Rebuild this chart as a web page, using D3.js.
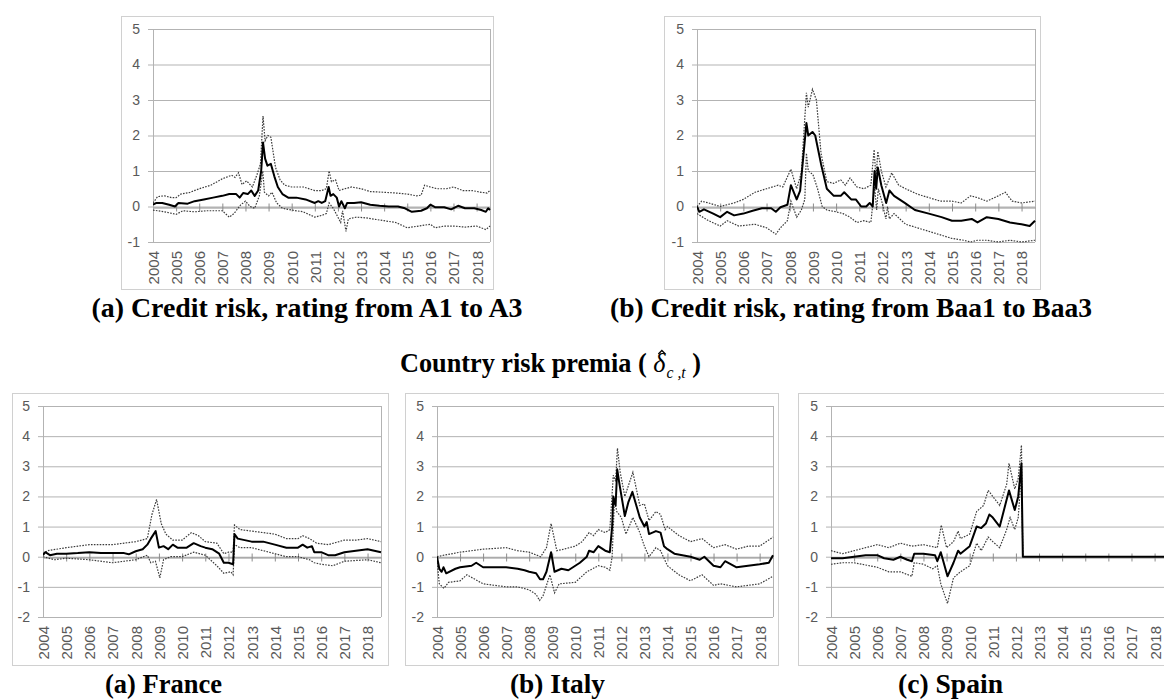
<!DOCTYPE html>
<html>
<head>
<meta charset="utf-8">
<script src="https://cdn.jsdelivr.net/npm/d3@7"></script>
<style>
  body { margin: 0; background: #fff; }
  svg { display: block; }
  .tick text { font-family: "Liberation Sans", Arial, sans-serif; fill: #595959; }
  .cap { font-family: "Liberation Serif", "Times New Roman", serif; font-weight: bold; fill: #000; }
</style>
</head>
<body>
<svg id="fig" width="1164" height="699"></svg>
<script>
const years = d3.range(2004, 2019);
const xEnd = 2018.58;

// (a) credit risk A1-A3
const a1Mid = [[2004.0,0.05],[2004.15,0.1],[2004.4,0.1],[2004.7,0.05],[2004.95,0.0],[2005.1,0.1],[2005.5,0.08],[2005.8,0.15],[2006.2,0.2],[2006.6,0.25],[2007.0,0.3],[2007.3,0.35],[2007.6,0.35],[2007.75,0.25],[2007.9,0.38],[2008.1,0.35],[2008.25,0.45],[2008.4,0.3],[2008.55,0.45],[2008.68,1.0],[2008.76,1.8],[2008.85,1.35],[2008.95,1.15],[2009.1,1.2],[2009.25,0.85],[2009.4,0.55],[2009.6,0.35],[2009.85,0.25],[2010.2,0.25],[2010.6,0.2],[2011.0,0.1],[2011.15,0.15],[2011.3,0.1],[2011.45,0.15],[2011.6,0.55],[2011.68,0.3],[2011.8,0.35],[2011.95,0.25],[2012.05,0.0],[2012.15,0.15],[2012.3,-0.05],[2012.4,0.1],[2012.7,0.1],[2013.0,0.12],[2013.4,0.05],[2013.8,0.02],[2014.2,0.0],[2014.6,0.0],[2014.9,-0.05],[2015.2,-0.15],[2015.6,-0.12],[2015.85,-0.05],[2016.0,0.05],[2016.2,-0.02],[2016.6,-0.02],[2016.9,-0.08],[2017.2,0.02],[2017.5,-0.05],[2017.9,-0.05],[2018.2,-0.1],[2018.4,-0.15],[2018.5,-0.05],[2018.58,-0.1]];
const a1Up = [[2004.0,0.1],[2004.2,0.28],[2004.5,0.3],[2004.8,0.25],[2005.0,0.25],[2005.2,0.35],[2005.6,0.4],[2006.0,0.5],[2006.5,0.6],[2007.0,0.78],[2007.4,0.88],[2007.55,0.82],[2007.7,0.95],[2007.85,0.62],[2008.05,0.72],[2008.3,0.55],[2008.5,0.9],[2008.65,1.2],[2008.76,2.55],[2008.85,1.85],[2008.97,2.0],[2009.1,1.95],[2009.3,1.1],[2009.5,0.75],[2009.7,0.6],[2010.0,0.55],[2010.5,0.55],[2011.0,0.45],[2011.3,0.45],[2011.5,0.5],[2011.62,1.0],[2011.72,0.7],[2011.9,0.75],[2012.05,0.45],[2012.3,0.5],[2012.6,0.55],[2013.0,0.5],[2013.4,0.42],[2014.0,0.4],[2014.5,0.38],[2015.0,0.35],[2015.4,0.3],[2015.6,0.32],[2015.75,0.6],[2016.0,0.55],[2016.3,0.5],[2016.7,0.5],[2017.0,0.55],[2017.4,0.45],[2017.8,0.45],[2018.2,0.4],[2018.45,0.38],[2018.58,0.45]];
const a1Lo = [[2004.0,-0.1],[2004.5,-0.15],[2005.0,-0.22],[2005.3,-0.12],[2005.8,-0.15],[2006.3,-0.12],[2007.0,-0.12],[2007.3,-0.3],[2007.5,-0.2],[2007.8,0.05],[2008.0,0.15],[2008.2,0.0],[2008.4,-0.05],[2008.6,0.3],[2008.75,1.0],[2008.82,0.4],[2009.0,0.3],[2009.15,0.4],[2009.35,0.1],[2009.6,-0.05],[2010.0,-0.1],[2010.5,-0.15],[2011.0,-0.3],[2011.3,-0.25],[2011.5,-0.2],[2011.62,0.1],[2011.8,-0.05],[2012.0,-0.3],[2012.12,-0.45],[2012.2,-0.12],[2012.35,-0.7],[2012.45,-0.35],[2012.8,-0.3],[2013.2,-0.32],[2014.0,-0.4],[2014.5,-0.45],[2015.0,-0.6],[2015.5,-0.55],[2016.0,-0.5],[2016.2,-0.6],[2016.6,-0.55],[2017.0,-0.55],[2017.5,-0.58],[2018.0,-0.55],[2018.4,-0.65],[2018.58,-0.55]];

// (b) credit risk Baa1-Baa3
const b2Mid = [[2004.0,0.0],[2004.1,-0.15],[2004.3,-0.08],[2004.7,-0.2],[2005.0,-0.3],[2005.3,-0.15],[2005.6,-0.25],[2006.0,-0.2],[2006.4,-0.12],[2006.8,-0.05],[2007.2,-0.05],[2007.4,-0.15],[2007.6,-0.02],[2007.9,0.05],[2008.05,0.6],[2008.3,0.2],[2008.45,0.45],[2008.72,2.35],[2008.8,2.0],[2008.98,2.1],[2009.1,2.0],[2009.35,1.2],[2009.6,0.5],[2009.9,0.3],[2010.2,0.3],[2010.35,0.4],[2010.65,0.2],[2010.85,0.2],[2011.08,0.0],[2011.3,0.0],[2011.45,0.1],[2011.58,0.0],[2011.66,1.0],[2011.73,0.5],[2011.8,1.1],[2011.95,0.6],[2012.16,0.1],[2012.3,0.45],[2012.5,0.3],[2012.96,0.1],[2013.4,-0.1],[2014.0,-0.2],[2014.55,-0.3],[2015.0,-0.4],[2015.4,-0.4],[2015.85,-0.35],[2016.1,-0.45],[2016.5,-0.3],[2017.0,-0.35],[2017.5,-0.45],[2018.0,-0.5],[2018.35,-0.55],[2018.58,-0.4]];
const b2Up = [[2004.0,0.0],[2004.2,0.15],[2004.5,0.1],[2005.0,0.0],[2005.3,0.05],[2005.6,0.1],[2006.0,0.2],[2006.5,0.4],[2007.0,0.5],[2007.5,0.6],[2007.7,0.55],[2008.05,1.05],[2008.3,0.5],[2008.5,0.95],[2008.72,3.2],[2008.8,2.8],[2008.98,3.3],[2009.15,3.0],[2009.35,1.5],[2009.6,0.7],[2009.9,0.65],[2010.2,0.75],[2010.4,0.6],[2010.6,0.8],[2010.9,0.55],[2011.2,0.5],[2011.5,0.6],[2011.64,1.6],[2011.72,0.8],[2011.8,1.55],[2011.95,1.0],[2012.15,0.55],[2012.4,0.95],[2012.7,0.6],[2013.0,0.5],[2013.5,0.35],[2014.0,0.25],[2014.5,0.15],[2015.0,0.15],[2015.4,0.1],[2015.8,0.3],[2016.1,0.25],[2016.5,0.15],[2017.0,0.3],[2017.3,0.4],[2017.6,0.15],[2018.0,0.1],[2018.58,0.15]];
const b2Lo = [[2004.0,-0.2],[2004.5,-0.4],[2005.0,-0.55],[2005.3,-0.4],[2005.8,-0.55],[2006.5,-0.5],[2007.0,-0.6],[2007.4,-0.78],[2007.6,-0.6],[2007.9,-0.4],[2008.05,0.15],[2008.3,-0.3],[2008.5,-0.1],[2008.65,0.2],[2008.72,1.5],[2008.8,1.0],[2009.0,0.9],[2009.2,0.5],[2009.4,0.0],[2009.6,-0.1],[2010.0,-0.15],[2010.3,-0.2],[2010.6,-0.3],[2010.9,-0.45],[2011.2,-0.4],[2011.5,-0.45],[2011.66,0.55],[2011.75,-0.1],[2011.82,0.5],[2011.95,0.2],[2012.15,-0.35],[2012.22,0.0],[2012.3,-0.35],[2012.5,-0.2],[2013.0,-0.5],[2013.5,-0.6],[2014.0,-0.7],[2014.5,-0.8],[2015.0,-0.9],[2015.5,-0.95],[2015.8,-1.0],[2016.1,-0.95],[2016.5,-0.95],[2017.0,-1.0],[2017.5,-0.95],[2018.0,-1.0],[2018.58,-0.95]];

// country risk premia
const frMid = [[2004.0,0.05],[2004.1,0.15],[2004.3,0.05],[2004.6,0.1],[2005.0,0.1],[2005.5,0.12],[2006.0,0.15],[2006.5,0.12],[2007.0,0.12],[2007.5,0.12],[2007.7,0.08],[2008.0,0.18],[2008.3,0.25],[2008.5,0.4],[2008.65,0.6],[2008.86,0.85],[2009.0,0.3],[2009.2,0.35],[2009.4,0.25],[2009.6,0.4],[2009.8,0.3],[2010.2,0.3],[2010.5,0.45],[2010.8,0.35],[2011.0,0.3],[2011.3,0.25],[2011.6,0.1],[2011.8,-0.2],[2012.0,-0.2],[2012.2,-0.25],[2012.26,0.75],[2012.4,0.6],[2013.0,0.5],[2013.5,0.5],[2014.0,0.4],[2014.5,0.3],[2015.0,0.3],[2015.2,0.4],[2015.4,0.3],[2015.6,0.35],[2015.7,0.15],[2016.0,0.15],[2016.3,0.05],[2016.6,0.05],[2017.0,0.15],[2017.5,0.2],[2018.0,0.25],[2018.58,0.15]];
const frUp = [[2004.0,0.1],[2004.2,0.2],[2005.0,0.3],[2006.0,0.4],[2007.0,0.4],[2008.0,0.5],[2008.5,0.6],[2008.7,1.4],[2008.9,1.9],[2009.1,1.1],[2009.3,0.75],[2009.6,0.55],[2010.0,0.55],[2010.4,0.8],[2010.7,0.7],[2011.0,0.5],[2011.5,0.45],[2011.8,0.1],[2012.0,0.15],[2012.2,0.15],[2012.26,1.05],[2012.5,0.9],[2013.0,0.85],[2014.0,0.75],[2014.5,0.6],[2015.0,0.6],[2015.2,0.7],[2015.5,0.6],[2015.8,0.45],[2016.3,0.4],[2017.0,0.55],[2017.5,0.55],[2018.0,0.6],[2018.58,0.5]];
const frLo = [[2004.0,0.0],[2004.5,-0.1],[2005.0,-0.05],[2006.0,-0.1],[2007.0,-0.2],[2007.5,-0.15],[2008.0,-0.1],[2008.5,0.05],[2008.65,-0.2],[2008.85,-0.15],[2009.04,-0.7],[2009.2,-0.1],[2009.5,0.0],[2010.0,0.0],[2010.5,0.15],[2011.0,0.05],[2011.5,-0.3],[2011.8,-0.55],[2012.1,-0.5],[2012.2,-0.6],[2012.26,0.4],[2012.5,0.3],[2013.0,0.3],[2013.5,0.2],[2014.0,0.1],[2014.5,0.0],[2015.0,0.0],[2015.5,-0.1],[2015.7,-0.2],[2016.0,-0.25],[2016.5,-0.3],[2017.0,-0.15],[2018.0,-0.1],[2018.58,-0.2]];

const itMid = [[2004.0,0.0],[2004.1,-0.4],[2004.2,-0.5],[2004.28,-0.35],[2004.4,-0.55],[2004.8,-0.4],[2005.0,-0.35],[2005.5,-0.3],[2005.7,-0.2],[2006.0,-0.35],[2006.5,-0.35],[2007.0,-0.35],[2007.5,-0.4],[2007.8,-0.45],[2008.0,-0.5],[2008.3,-0.55],[2008.47,-0.75],[2008.6,-0.75],[2008.75,-0.5],[2008.95,0.15],[2009.1,-0.5],[2009.4,-0.4],[2009.7,-0.45],[2010.0,-0.3],[2010.2,-0.2],[2010.5,0.0],[2010.6,0.2],[2010.8,0.15],[2011.0,0.35],[2011.3,0.2],[2011.5,0.15],[2011.6,1.0],[2011.65,2.0],[2011.75,1.7],[2011.82,2.9],[2011.92,2.4],[2012.15,1.35],[2012.3,1.8],[2012.48,2.15],[2012.8,1.3],[2013.0,1.0],[2013.1,1.15],[2013.2,0.75],[2013.5,0.85],[2013.7,0.8],[2013.85,0.35],[2014.0,0.25],[2014.3,0.1],[2015.0,0.0],[2015.4,-0.1],[2015.6,0.0],[2016.0,-0.3],[2016.3,-0.35],[2016.5,-0.15],[2017.0,-0.35],[2017.5,-0.3],[2018.0,-0.25],[2018.4,-0.2],[2018.58,0.05]];
const itUp = [[2004.0,0.0],[2004.3,0.05],[2005.0,0.15],[2006.0,0.25],[2007.0,0.3],[2007.5,0.2],[2008.0,0.15],[2008.5,0.0],[2008.75,0.3],[2008.95,1.1],[2009.2,0.2],[2009.5,0.25],[2010.0,0.35],[2010.3,0.5],[2010.6,0.8],[2010.8,0.7],[2011.0,0.9],[2011.3,0.8],[2011.5,0.9],[2011.65,2.7],[2011.75,2.5],[2011.83,3.6],[2011.95,2.8],[2012.15,2.0],[2012.5,2.8],[2012.8,1.7],[2013.0,1.75],[2013.2,1.2],[2013.5,1.5],[2013.7,1.4],[2013.9,0.9],[2014.0,1.0],[2014.5,0.7],[2015.0,0.5],[2015.5,0.6],[2016.0,0.3],[2016.5,0.4],[2017.0,0.25],[2017.5,0.35],[2018.0,0.35],[2018.58,0.65]];
const itLo = [[2004.0,-0.1],[2004.1,-0.9],[2004.3,-1.05],[2004.5,-0.85],[2005.0,-0.8],[2005.3,-0.6],[2006.0,-0.9],[2007.0,-1.0],[2007.5,-1.0],[2008.0,-1.1],[2008.3,-1.25],[2008.45,-1.45],[2008.6,-1.3],[2008.9,-0.6],[2009.1,-1.2],[2009.3,-0.9],[2010.0,-0.85],[2010.5,-0.5],[2011.0,-0.3],[2011.3,-0.35],[2011.5,-0.45],[2011.6,0.0],[2011.7,1.9],[2011.8,1.5],[2012.0,1.3],[2012.2,0.75],[2012.5,1.3],[2012.8,0.8],[2013.0,0.35],[2013.2,0.0],[2013.5,0.3],[2013.7,0.2],[2014.0,-0.3],[2014.5,-0.6],[2015.0,-0.8],[2015.5,-0.6],[2016.0,-0.95],[2016.3,-0.9],[2017.0,-1.0],[2017.5,-0.95],[2018.0,-0.9],[2018.58,-0.65]];

const esMid = [[2004.0,-0.05],[2004.5,-0.05],[2005.0,0.0],[2005.5,0.05],[2006.0,0.05],[2006.3,-0.05],[2006.7,-0.1],[2007.0,0.0],[2007.3,-0.1],[2007.5,-0.15],[2007.6,0.1],[2008.0,0.1],[2008.5,0.05],[2008.6,-0.15],[2008.75,0.15],[2009.04,-0.65],[2009.3,-0.2],[2009.5,0.2],[2009.6,0.1],[2010.0,0.35],[2010.3,1.0],[2010.5,0.95],[2010.7,1.1],[2010.85,1.4],[2011.0,1.3],[2011.3,1.0],[2011.5,1.6],[2011.7,2.2],[2011.95,1.55],[2012.1,2.0],[2012.24,3.1],[2012.3,0.0],[2018.7,0.0]];
const esUp = [[2004.0,0.2],[2004.5,0.1],[2005.0,0.2],[2006.0,0.4],[2006.5,0.3],[2007.0,0.45],[2007.5,0.35],[2008.0,0.4],[2008.6,0.3],[2008.77,1.05],[2009.0,0.3],[2009.3,0.5],[2009.5,0.85],[2009.6,0.6],[2010.0,0.75],[2010.3,1.5],[2010.6,1.7],[2010.8,2.2],[2011.0,2.0],[2011.3,1.7],[2011.6,2.4],[2011.7,3.1],[2011.95,2.25],[2012.1,2.6],[2012.24,3.7],[2012.3,0.0]];
const esLo = [[2004.0,-0.25],[2004.5,-0.2],[2005.0,-0.2],[2006.0,-0.35],[2006.5,-0.5],[2007.0,-0.5],[2007.5,-0.65],[2007.6,-0.2],[2008.0,-0.25],[2008.4,-0.4],[2008.6,-0.3],[2008.75,-0.9],[2009.04,-1.55],[2009.3,-0.7],[2009.6,-0.5],[2010.0,-0.3],[2010.3,0.45],[2010.5,0.2],[2010.8,0.65],[2011.0,0.5],[2011.3,0.3],[2011.6,0.9],[2011.75,1.3],[2011.95,0.9],[2012.1,1.3],[2012.24,2.8],[2012.3,0.0]];

const svg = d3.select('#fig');
svg.append('rect').attr('width', 1164).attr('height', 699).attr('fill', '#fff');

// frame and plot boxes: [left, top, right, bottom]
const panels = [
  { id: 'a1', frame: [121, 16, 493, 289], plot: [153, 29, 490, 242], yMin: -1, mid: a1Mid, up: a1Up, lo: a1Lo },
  { id: 'b2', frame: [664, 16, 1040, 289], plot: [697, 29, 1035, 242], yMin: -1, mid: b2Mid, up: b2Up, lo: b2Lo },
  { id: 'fr', frame: [12, 393, 388, 665], plot: [43, 406, 381, 617], yMin: -2, mid: frMid, up: frUp, lo: frLo },
  { id: 'it', frame: [405, 393, 778, 665], plot: [437, 406, 773, 617], yMin: -2, mid: itMid, up: itUp, lo: itLo },
  { id: 'es', frame: [798, 393, 1172, 665], plot: [831, 406, 1168, 617], yMin: -2, mid: esMid, up: esUp, lo: esLo }
];

const gridColor = '#b3b3b3';

panels.forEach(p => {
  const f = p.frame, pl = p.plot;
  const g = svg.append('g');

  g.append('rect')
    .attr('x', f[0] + 0.5).attr('y', f[1] + 0.5)
    .attr('width', f[2] - f[0]).attr('height', f[3] - f[1])
    .attr('fill', '#fff').attr('stroke', '#d0d0d0');

  const x = d3.scaleLinear().domain([2004, xEnd]).range([pl[0], pl[2]]);
  const y = d3.scaleLinear().domain([p.yMin, 5]).range([pl[3], pl[1]]);
  const yt = d3.range(p.yMin, 6);

  // gridlines + y labels (plain hyphen for negatives, as in the original)
  const ya = g.append('g')
    .attr('transform', `translate(${pl[0]},0)`)
    .call(d3.axisLeft(y).tickValues(yt).tickFormat(d => String(d))
      .tickSizeInner(-(pl[2] - pl[0])).tickSizeOuter(0).tickPadding(13));
  ya.select('.domain').attr('stroke', gridColor);
  ya.selectAll('.tick line').attr('x1', -5).attr('stroke', gridColor);
  ya.selectAll('.tick text').style('font-size', '14px');

  // right border of the plot area
  g.append('line')
    .attr('x1', pl[2] + 0.5).attr('x2', pl[2] + 0.5)
    .attr('y1', pl[1]).attr('y2', pl[3])
    .attr('stroke', gridColor);

  // year labels at the bottom
  const xa = g.append('g')
    .attr('transform', `translate(0,${pl[3]})`)
    .call(d3.axisBottom(x).tickValues(years).tickSize(0).tickFormat(d => String(d)));
  xa.select('.domain').remove();
  xa.selectAll('.tick text')
    .attr('transform', 'rotate(-90)')
    .attr('x', -9).attr('y', 0).attr('dy', '0.36em')
    .style('text-anchor', 'end')
    .style('font-size', '15px');

  // horizontal axis crossing at zero
  const za = g.append('g')
    .attr('transform', `translate(0,${Math.round(y(0)) + 0.5})`)
    .call(d3.axisBottom(x).tickValues(years.slice(1)).tickSizeInner(4).tickSizeOuter(0).tickFormat(''));
  za.select('.domain').attr('stroke', '#8c8c8c');
  za.selectAll('.tick line').attr('y1', -4).attr('stroke', '#8c8c8c');

  // clipping
  const clipId = 'clip-' + p.id;
  g.append('clipPath').attr('id', clipId)
    .append('rect').attr('x', pl[0]).attr('y', pl[1] - 2)
    .attr('width', pl[2] - pl[0] + 1).attr('height', pl[3] - pl[1] + 4);

  const line = d3.line().x(d => x(d[0])).y(d => y(d[1]));
  const lg = g.append('g').attr('clip-path', `url(#${clipId})`);

  [p.up, p.lo].forEach(s => {
    lg.append('path').datum(s).attr('d', line)
      .attr('fill', 'none').attr('stroke', '#3c3c3c')
      .attr('stroke-width', 1.2).attr('stroke-dasharray', '1.6,1.3');
  });
  lg.append('path').datum(p.mid).attr('d', line)
    .attr('fill', 'none').attr('stroke', '#000')
    .attr('stroke-width', 2).attr('stroke-linejoin', 'round');
});

// captions, sized to the reference widths
function caption(txt, cx, baseline, width) {
  const t = svg.append('text').attr('class', 'cap')
    .attr('x', cx).attr('y', baseline).attr('text-anchor', 'middle')
    .style('font-size', '24px').text(txt);
  const w = t.node().getComputedTextLength();
  t.style('font-size', (24 * width / w).toFixed(2) + 'px');
  return t;
}
caption('(a) Credit risk, rating from A1 to A3', 307, 317, 431);
caption('(b) Credit risk, rating from Baa1 to Baa3', 851, 317, 482);
caption('(a) France', 163.5, 693, 117);
caption('(b) Italy', 557.5, 693, 95);
caption('(c) Spain', 950.5, 693, 105);

// title with delta-hat, fitted to the span 400..713
const lead = 'Country risk premia ( ';
const title = svg.append('text').attr('class', 'cap')
  .attr('x', 400).attr('y', 372).style('font-size', '25px');
title.append('tspan').text(lead);
title.append('tspan').attr('font-style', 'italic').attr('font-weight', 'normal').text('δ');
const sub = title.append('tspan').attr('font-style', 'italic').attr('font-weight', 'normal')
  .attr('dy', 6).attr('dx', 1).text('c ,t');
title.append('tspan').attr('dy', -6).text(' )');
const tw = title.node().getComputedTextLength();
const tSize = 25 * 313 / tw;
title.style('font-size', tSize.toFixed(2) + 'px');
sub.style('font-size', (tSize * 0.6).toFixed(2) + 'px');
const tn = title.node();
const s0 = tn.getStartPositionOfChar(lead.length), e0 = tn.getEndPositionOfChar(lead.length);
const hx = (s0.x + e0.x) / 2 + 2.5, hy = 372 - tSize * 0.82;
svg.append('path')
  .attr('d', d3.line()([[hx - 3.5, hy + 3.5], [hx, hy], [hx + 3.5, hy + 3.5]]))
  .attr('fill', 'none').attr('stroke', '#000').attr('stroke-width', 1.3);
</script>
</body>
</html>
